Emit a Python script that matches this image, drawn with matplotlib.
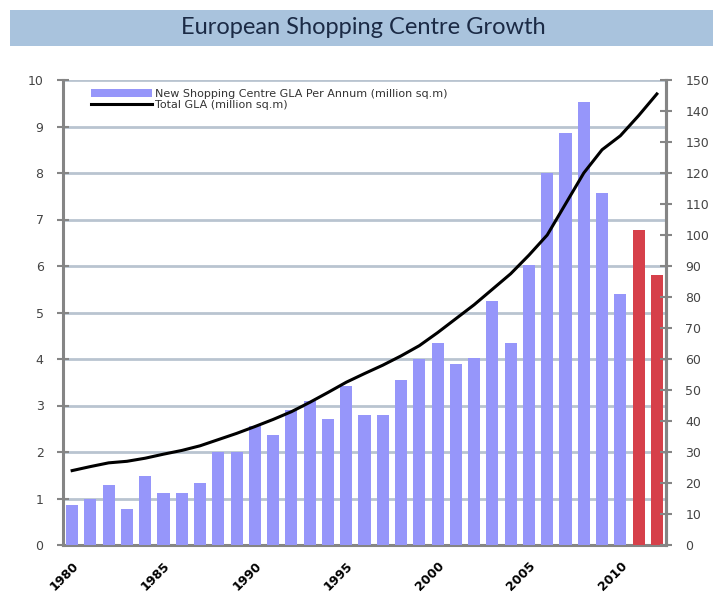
import numpy as np
import matplotlib
matplotlib.use("Agg")
import matplotlib.pyplot as plt
from matplotlib.patches import Rectangle

# data
years = list(range(1980, 2013))
new_gla = [0.87, 1.0, 1.28, 0.78, 1.48, 1.12, 1.12, 1.33, 2.0, 2.0,
           2.55, 2.37, 2.9, 3.1, 2.72, 3.42, 2.8, 2.8, 3.55, 4.0,
           4.35, 3.9, 4.02, 5.25, 4.35, 6.03, 8.0, 8.85, 9.53, 7.57,
           5.4, 6.78, 5.8]
total_gla = [24, 25.3, 26.5, 27, 28, 29.3, 30.5, 32, 34, 36,
             38.2, 40.5, 43, 46, 49.2, 52.5, 55.3, 58, 61, 64.3,
             68.5, 73, 77.5, 82.5, 87.5, 93.5, 100, 110, 120, 127.5,
             132, 138.5, 145.5]
forecast_years = [2011, 2012]
xtick_years = [1980, 1985, 1990, 1995, 2000, 2005, 2010]
left_ticks = list(range(0, 11))
right_ticks = list(range(0, 151, 10))

title = "European Shopping Centre Growth"
bar_label = "New Shopping Centre GLA Per Annum (million sq.m)"
line_label = "Total GLA (million sq.m)"

bar_blue = "#9696fa"
bar_red = "#d6404a"
grid_col = "#b9c4d0"
spine_col = "#858585"

fig = plt.figure(figsize=(7.13, 5.95), dpi=100)

# title band
fig.patches.append(Rectangle((10 / 713, 1 - 46 / 595), 703 / 713, 36 / 595,
                             transform=fig.transFigure, facecolor="#a9c3dd",
                             edgecolor="none"))
fig.text(0.51, 1 - 27 / 595, title, ha="center", va="center", fontsize=17,
         color="#1b2a45", family="Lato")

ax = fig.add_axes([63 / 713, 50 / 595, 603 / 713, 465 / 595])
x = np.arange(len(years))
colors = [bar_red if y in forecast_years else bar_blue for y in years]
bars = ax.bar(x, new_gla, width=0.66, color=colors, zorder=3)

ax.set_xlim(-0.5, len(years) - 0.5)
ax.set_ylim(0, 10)
ax.set_yticks(left_ticks)
ax.set_yticklabels([str(v) for v in left_ticks])
ax.yaxis.grid(True, color=grid_col, linewidth=2, zorder=0)
ax.set_axisbelow(True)

ax.set_xticks([years.index(y) for y in xtick_years])
ax.set_xticklabels([str(y) for y in xtick_years], rotation=45, ha="right",
                   rotation_mode="anchor", fontsize=9, fontweight="bold",
                   family="DejaVu Sans")
ax.tick_params(axis="x", length=0, pad=10)
ax.tick_params(axis="y", direction="inout", length=8, width=1.5,
               color=spine_col, labelsize=9, labelcolor="#444444", pad=10)

for s in ["top"]:
    ax.spines[s].set_visible(False)
for s in ["left", "right", "bottom"]:
    ax.spines[s].set_color(spine_col)
    ax.spines[s].set_linewidth(2.2)

ax2 = ax.twinx()
line, = ax2.plot(x, total_gla, color="black", linewidth=2.2, zorder=4)
ax2.set_ylim(0, 150)
ax2.set_yticks(right_ticks)
ax2.set_yticklabels([str(v) for v in right_ticks])
ax2.tick_params(axis="y", direction="inout", length=8, width=1.5,
                color=spine_col, labelsize=9, labelcolor="#444444", pad=10)
for s in ["top", "left", "bottom"]:
    ax2.spines[s].set_visible(False)
ax2.spines["right"].set_color(spine_col)
ax2.spines["right"].set_linewidth(2.2)

leg = ax.legend([bars, line], [bar_label, line_label], loc="upper left",
                bbox_to_anchor=(0.035, 0.995), frameon=False, fontsize=8,
                handlelength=5.5, handletextpad=0.3, labelspacing=0.05,
                borderaxespad=0.2)
for t in leg.get_texts():
    t.set_color("#333333")
leg.set_zorder(5)

fig.savefig("out.png", dpi=100)
